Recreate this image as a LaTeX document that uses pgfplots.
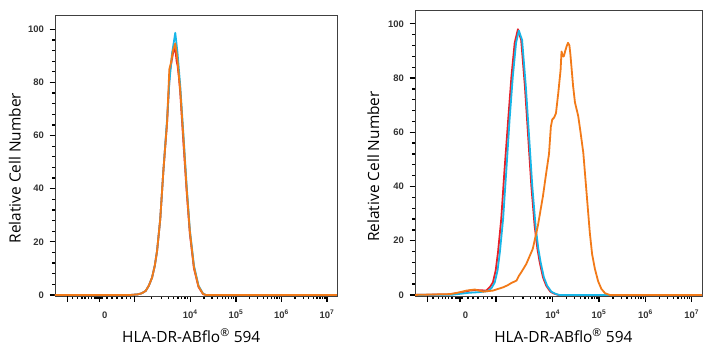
\documentclass[border=0pt]{standalone}
\usepackage{pgfplots}
\pgfplotsset{compat=1.18}
\usepackage{fontspec}
\setmainfont{Open Sans}
\newfontfamily\tickfont{Liberation Sans}
\definecolor{cred}{RGB}{232,32,40}
\definecolor{cblue}{RGB}{24,182,232}
\definecolor{corange}{RGB}{242,122,24}
\pgfplotsset{flowstyle/.style={
  scale only axis, xmin=1.03, xmax=7.22, ymin=-0.4,
  axis line style={black!75, line width=0.7pt},
  tick align=outside, tick pos=left,
  xtick={2.0,4,5,6,7},
  xticklabels={\hspace*{11bp}0,10\textsuperscript{4},10\textsuperscript{5},10\textsuperscript{6},10\textsuperscript{7}},
  extra x ticks={1.3,2.78}, extra x tick labels={},
  minor xtick={1.42,1.53,1.62,1.69,1.76,1.83,1.90,1.93,1.95,1.97,1.99,2.01,2.03,2.06,
    2.17,2.28,2.39,2.50,2.60,2.69,
    3.147,3.362,3.514,3.633,3.729,3.811,3.882,3.944,
    4.301,4.477,4.602,4.699,4.778,4.845,4.903,4.954,
    5.301,5.477,5.602,5.699,5.778,5.845,5.903,5.954,
    6.301,6.477,6.602,6.699,6.778,6.845,6.903,6.954},
  ytick={0,20,40,60,80,100}, minor ytick={4,8,12,16,24,28,32,36,44,48,52,56,64,68,72,76,84,88,92,96},
  major tick length=5.5bp, minor tick length=3bp,
  every tick/.style={black, line width=1.3pt},
  tick label style={font=\tickfont\bfseries\fontsize{9.5}{11}\selectfont, text=black!80},
  /pgf/number format/assume math mode=true,
  xticklabel style={anchor=base, yshift=-17bp},
  yticklabel style={xshift=-2bp},
  xlabel={HLA-DR-ABflo\textsuperscript{®} 594},
  ylabel={Relative Cell Number},
  label style={font=\fontsize{15.5}{18}\selectfont},
  every axis plot/.append style={line width=1.8bp, line join=round},
}}
\begin{document}
\begin{tikzpicture}
\useasboundingbox (0,0) rectangle (712bp,350bp);
% left panel
\begin{axis}[flowstyle, at={(55bp,54bp)}, anchor=south west, width=282bp, height=281bp, ymax=105.4,
  xlabel style={at={(axis description cs:0.483,-0.164)}, anchor=base},
  ylabel style={at={(axis description cs:-0.142,0.455)}, anchor=center}]
\addplot[cred] coordinates {(1.03,0) (2.70,0) (2.84,0.2) (2.93,0.6) (3.02,1.5) (3.09,3.5) (3.16,6.5) (3.22,11) (3.27,16.5) (3.34,28.5) (3.41,47) (3.49,65) (3.55,84) (3.62,91) (3.67,93) (3.70,88) (3.72,86.5) (3.75,82) (3.78,76) (3.85,57) (3.92,39) (3.99,23) (4.08,10) (4.18,3) (4.28,0.3) (4.34,0) (7.22,0)};
\addplot[cblue] coordinates {(1.03,0) (2.70,0) (2.84,0.2) (2.93,0.6) (3.02,1.5) (3.09,3.5) (3.16,6.5) (3.22,11) (3.27,16.5) (3.34,28.5) (3.41,47) (3.49,66) (3.54,80) (3.60,91) (3.67,98.7) (3.72,91) (3.78,78.5) (3.85,60) (3.92,41) (3.99,24.5) (4.08,11) (4.18,3.5) (4.28,0.5) (4.34,0) (7.22,0)};
\addplot[corange] coordinates {(1.03,0) (2.70,0) (2.84,0.2) (2.93,0.6) (3.02,1.5) (3.09,3.5) (3.16,6.5) (3.22,11) (3.27,16.5) (3.34,28.5) (3.41,47) (3.49,65) (3.54,85) (3.57,87) (3.62,92) (3.67,94.7) (3.70,91) (3.72,88) (3.78,77) (3.85,59) (3.92,40) (3.99,24) (4.08,10.5) (4.18,3.2) (4.28,0.4) (4.34,0) (7.22,0)};
\end{axis}
% right panel
\begin{axis}[flowstyle, at={(415bp,54bp)}, anchor=south west, width=287bp, height=286bp, ymax=105.1,
  xlabel style={at={(axis description cs:0.517,-0.161)}, anchor=base},
  ylabel style={at={(axis description cs:-0.145,0.453)}, anchor=center}]
\addplot[cred] coordinates {(1.03,0) (1.78,0.2) (1.92,0.6) (2.05,1.0) (2.21,1.6) (2.35,1.8) (2.57,1.6) (2.65,3) (2.71,4.6) (2.77,9) (2.82,15.7) (2.89,28) (2.96,46) (3.04,64.7) (3.11,80.6) (3.18,93) (3.25,98) (3.32,94) (3.40,77) (3.47,58.6) (3.54,40) (3.61,25.5) (3.67,17) (3.72,12) (3.79,6.5) (3.86,3.4) (3.95,1.2) (4.04,0.4) (4.12,0) (7.22,0)};
\addplot[cblue] coordinates {(1.03,0) (1.85,0.1) (2.0,0.4) (2.2,0.8) (2.4,1.0) (2.6,1.4) (2.68,2.5) (2.75,4.6) (2.81,9) (2.86,15.7) (2.93,28) (3.00,46) (3.07,64.7) (3.14,80.6) (3.21,93) (3.27,97.5) (3.34,94) (3.42,77) (3.49,58.6) (3.56,40) (3.63,25.5) (3.69,17) (3.74,12) (3.81,6.5) (3.88,3.4) (3.97,1.2) (4.06,0.4) (4.14,0) (7.22,0)};
\addplot[corange] coordinates {(1.03,0) (1.78,0.3) (1.92,0.7) (2.05,1.2) (2.14,1.6) (2.32,2.0) (2.50,1.2) (2.71,1.6) (2.93,2.8) (3.02,3.5) (3.11,4.4) (3.22,5.3) (3.27,7) (3.32,8.3) (3.43,11.4) (3.57,17) (3.68,25.5) (3.79,36.5) (3.86,45) (3.92,52) (3.96,62) (3.99,64.7) (4.03,65.4) (4.07,67) (4.12,74.5) (4.17,83) (4.19,89.8) (4.22,88) (4.24,88) (4.27,90) (4.30,91.7) (4.33,93) (4.36,92) (4.38,89) (4.41,83) (4.44,77) (4.48,71) (4.55,66) (4.60,60) (4.66,52.4) (4.73,37.7) (4.80,23) (4.85,15) (4.91,9.6) (4.98,5) (5.05,2.2) (5.13,0.6) (5.23,0) (7.22,0)};
\end{axis}
\end{tikzpicture}
\end{document}
